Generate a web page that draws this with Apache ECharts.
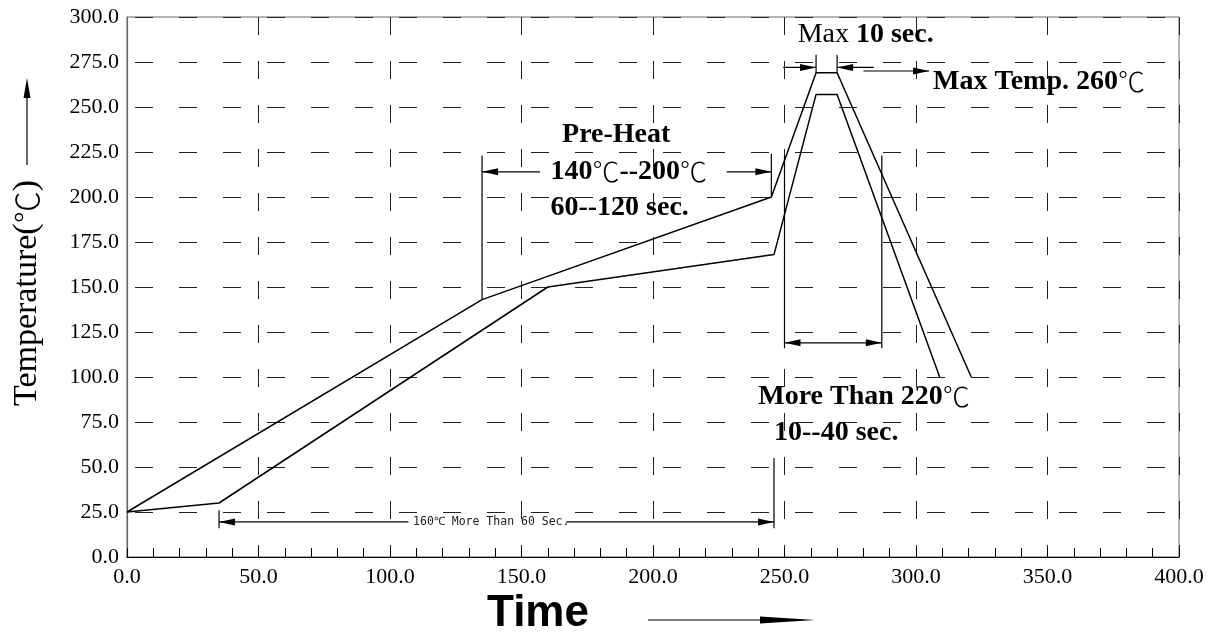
<!DOCTYPE html>
<html>
<head>
<meta charset="utf-8">
<script src="https://cdn.jsdelivr.net/npm/echarts@6/dist/echarts.min.js"></script>
<style>
  html, body { margin: 0; padding: 0; background: #fff; }
  #chart { width: 1218px; height: 641px; }
</style>
</head>
<body>
<div id="chart"></div>
<script>
// reflow profile: upper and lower limit curves (time s, temp C)
const upperTime = [0, 135, 245, 262, 270, 321]
const upperTemp = [25, 143, 200, 269, 269, 100]
const lowerTime = [0, 35, 160, 246, 262, 270, 309]
const lowerTemp = [25, 30, 150, 168, 257, 257, 100]

// axis ticks
const xTicks = [0, 50, 100, 150, 200, 250, 300, 350, 400]
const yTicks = [0, 25, 50, 75, 100, 125, 150, 175, 200, 225, 250, 275, 300]

// dimension lines [x1, y1, x2, y2, arrowAtEnd]
const guides = [
  [135, 143, 135, 223, 0],
  [245, 200, 245, 224, 0],
  [157, 214, 135, 214, 1],
  [228, 214, 245, 214, 1],
  [35, 16, 35, 26, 0],
  [246, 16, 246, 55, 0],
  [107, 19.5, 35, 19.5, 1],
  [167, 19.5, 246, 19.5, 1],
  [262, 269, 262, 279, 0],
  [270, 269, 270, 279, 0],
  [249.5, 272, 262, 272, 1],
  [284, 272, 270, 272, 1],
  [280, 270, 305, 270, 1],
  [250, 223, 250, 116, 0],
  [287, 223, 287, 116, 0],
  [268.5, 119, 250, 119, 1],
  [268.5, 119, 287, 119, 1]
]

// annotation texts, anchored in data coordinates
const noteX = [186, 161, 161, 138.5, 255, 306.5, 240, 246]
const noteY = [234.5, 214, 194, 19.5, 290, 264, 89, 69]
const noteAlign = ['center', 'left', 'left', 'center', 'left', 'left', 'left', 'left']
const noteText = [
  '{b|Pre-Heat}',
  '{b|140}{r|℃}{b|--200}{r|℃}',
  '{b|60--120 sec.}',
  '{s|160℃ More Than 60 Sec.}',
  '{n|Max }{b|10 sec.}',
  '{b|Max Temp. 260}{r|℃}',
  '{b|More Than 220}{r|℃}',
  '{b|10--40 sec.}'
]

const serif = '"Liberation Serif", "Times New Roman", serif'
const cjk = '"Noto Sans CJK SC", "DejaVu Sans", sans-serif'

const chart = echarts.init(document.getElementById('chart'))

const toPairs = (xs, ys) => xs.map((x, i) => [x, ys[i]])

const renderGuide = (params, api) => {
  const p1 = api.coord([api.value(0), api.value(1)])
  const p2 = api.coord([api.value(2), api.value(3)])
  const children = [{
    type: 'line',
    shape: { x1: p1[0], y1: p1[1], x2: p2[0], y2: p2[1] },
    style: { stroke: '#000', lineWidth: 1.2 }
  }]
  if (api.value(4)) {
    const dx = p2[0] - p1[0]
    const dy = p2[1] - p1[1]
    const len = Math.hypot(dx, dy)
    const ux = dx / len, uy = dy / len
    const L = 16, W = 3.5
    const bx = p2[0] - ux * L, by = p2[1] - uy * L
    children.push({
      type: 'polygon',
      shape: { points: [[p2[0], p2[1]], [bx - uy * W, by + ux * W], [bx + uy * W, by - ux * W]] },
      style: { fill: '#000' }
    })
  }
  return { type: 'group', children }
}

const renderNote = (params, api) => {
  const p = api.coord([api.value(0), api.value(1)])
  const i = params.dataIndex
  return {
    type: 'text',
    x: p[0],
    y: p[1],
    style: {
      text: noteText[i],
      align: noteAlign[i],
      verticalAlign: 'middle',
      rich: {
        b: { fontFamily: serif, fontWeight: 'bold', fontSize: 28, fill: '#000' },
        n: { fontFamily: serif, fontSize: 28, fill: '#000' },
        r: { fontFamily: cjk, fontWeight: 300, fontSize: 27, fill: '#000' },
        s: { fontFamily: '"DejaVu Sans Mono", monospace', fontSize: 11.5, fill: '#222' }
      }
    }
  }
}

const option = {
  animation: false,
  grid: {
    left: 127, right: 39, top: 17, bottom: 84,
    show: true, borderColor: '#666', borderWidth: 1
  },
  xAxis: {
    type: 'value',
    min: xTicks[0], max: xTicks[xTicks.length - 1], interval: 50,
    axisLine: { lineStyle: { color: '#000', width: 1.2 } },
    axisTick: { show: true, inside: true, length: 9, lineStyle: { color: '#000' } },
    minorTick: { show: true, splitNumber: 5, length: 9, lineStyle: { color: '#000' } },
    axisLabel: {
      color: '#000', fontFamily: serif, fontSize: 22, margin: 9,
      formatter: v => v.toFixed(1)
    },
    splitLine: { show: true, lineStyle: { color: '#222', type: [18, 26], width: 1 } }
  },
  yAxis: {
    type: 'value',
    min: yTicks[0], max: yTicks[yTicks.length - 1], interval: 25,
    axisLine: { show: true, lineStyle: { color: '#666', width: 1.2 } },
    axisTick: { show: false },
    axisLabel: {
      color: '#000', fontFamily: serif, fontSize: 22, margin: 8,
      formatter: v => v.toFixed(1)
    },
    splitLine: { show: true, lineStyle: { color: '#222', type: [18, 26], dashOffset: 36, width: 1 } }
  },
  graphic: [
    {
      type: 'text', x: 27, y: 293, rotation: Math.PI / 2,
      style: {
        text: '{a|Temperature(}{c|℃}{a|)}', align: 'center', verticalAlign: 'middle',
        rich: {
          a: { fontFamily: serif, fontSize: 34, fill: '#000' },
          c: { fontFamily: cjk, fontWeight: 300, fontSize: 32, fill: '#000' }
        }
      }
    },
    { type: 'line', shape: { x1: 27, y1: 165, x2: 27, y2: 95 }, style: { stroke: '#000', lineWidth: 1.2 } },
    { type: 'polygon', shape: { points: [[27, 78], [23.5, 98], [30.5, 98]] }, style: { fill: '#000' } },
    {
      type: 'text', x: 538, y: 614,
      style: { text: 'Time', font: 'bold 44px "Liberation Sans", Arial, sans-serif', fill: '#000', align: 'center', verticalAlign: 'middle' }
    },
    { type: 'line', shape: { x1: 648, y1: 620, x2: 795, y2: 620 }, style: { stroke: '#000', lineWidth: 1.2 } },
    { type: 'polygon', shape: { points: [[815, 620], [760, 616.5], [760, 623.5]] }, style: { fill: '#000' } }
  ],
  series: [
    {
      type: 'line', data: toPairs(upperTime, upperTemp), symbol: 'none',
      lineStyle: { color: '#000', width: 1.5 }, silent: true
    },
    {
      type: 'line', data: toPairs(lowerTime, lowerTemp), symbol: 'none',
      lineStyle: { color: '#000', width: 1.5 }, silent: true
    },
    {
      type: 'custom', renderItem: renderGuide, data: guides,
      encode: { x: [0, 2], y: [1, 3] }, silent: true, clip: false, z: 3
    },
    {
      type: 'custom', renderItem: renderNote, data: toPairs(noteX, noteY),
      encode: { x: 0, y: 1 }, silent: true, clip: false, z: 4
    }
  ]
}

chart.setOption(option)
</script>
</body>
</html>
